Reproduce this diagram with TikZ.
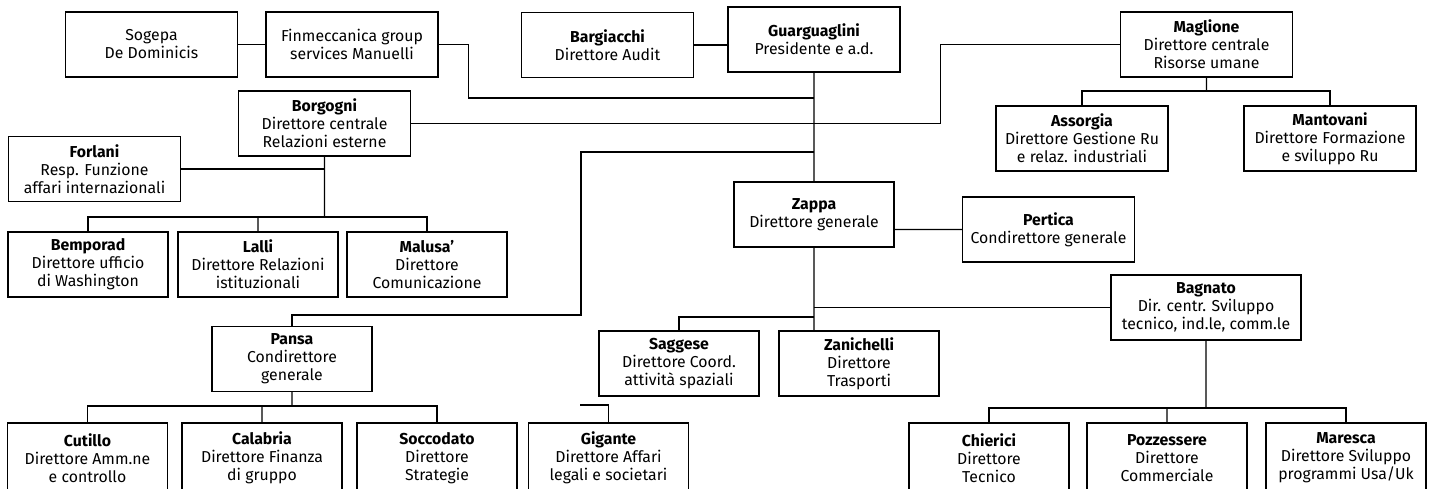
\documentclass[tikz,border=0pt]{standalone}
\usepackage{fontspec}
\setmainfont{Fira Sans}
\usepackage{tikz}
\newcommand{\who}[1]{\textbf{#1}\\}

\begin{document}
\begin{tikzpicture}[scale=0.2,
  office/.style={draw=black, line width=0.6pt, minimum width=3.44cm, minimum height=1.3cm, align=center, inner sep=1pt, font=\fontsize{9}{10.2}\selectfont},
  unit/.style={office, minimum width=3.2cm},
  low/.style={unit, minimum height=1.4cm},
  wire/.style={line width=0.6pt}]
\clip (0,0) rectangle (143.1,-48.8);
\node [office] (sogepa) at (15.15,-4.45) {Sogepa\\De Dominicis};
\node [office] (finm) at (35.2,-4.45) {Finmeccanica group\\services Manuelli};
\node [office] (bargiacchi) at (60.75,-4.5) {\who{Bargiacchi}Direttore Audit};
\node [office] (guarg) at (81.4,-3.95) {\who{Guarguaglini}Presidente e a.d.};
\node [office] (maglione) at (120.65,-4.45) {\who{Maglione}Direttore centrale\\Risorse umane};
\node [office] (borgogni) at (32.45,-12.35) {\who{Borgogni}Direttore centrale\\Relazioni esterne};
\node [office] (assorgia) at (108.2,-13.85) {\who{Assorgia}Direttore Gestione Ru\\e relaz. industriali};
\node [office] (mantovani) at (133,-13.85) {\who{Mantovani}Direttore Formazione\\e sviluppo Ru};
\node [office] (forlani) at (9.45,-16.9) {\who{Forlani}Resp. Funzione\\affari internazionali};
\node [unit] (zappa) at (81.4,-21.45) {\who{Zappa}Direttore generale};
\node [office] (pertica) at (104.85,-22.95) {\who{Pertica}Condirettore generale};
\node [unit] (bemporad) at (8.8,-26.45) {\who{Bemporad}Direttore ufficio\\di Washington};
\node [unit] (lalli) at (25.8,-26.45) {\who{Lalli}Direttore Relazioni\\istituzionali};
\node [unit] (malusa) at (42.7,-26.45) {\who{Malusa'}Direttore\\Comunicazione};
\node [office, minimum width=3.8cm] (bagnato) at (120.6,-30.75) {\who{Bagnato}Dir. centr. Sviluppo\\tecnico, ind.le, comm.le};
\node [unit] (pansa) at (29.2,-35.9) {\who{Pansa}Condirettore\\generale};
\node [unit] (saggese) at (67.9,-36.35) {\who{Saggese}Direttore Coord.\\attività spaziali};
\node [unit] (zanichelli) at (85.9,-36.35) {\who{Zanichelli}Direttore\\Trasporti};
\node [low] (cutillo) at (8.75,-45.8) {\who{Cutillo}Direttore Amm.ne\\e controllo};
\node [low] (calabria) at (26.2,-45.8) {\who{Calabria}Direttore Finanza\\di gruppo};
\node [low] (soccodato) at (43.7,-45.8) {\who{Soccodato}Direttore\\Strategie};
\node [low] (gigante) at (60.85,-45.8) {\who{Gigante}Direttore Affari\\legali e societari};
\node [low] (chierici) at (98.9,-45.8) {\who{Chierici}Direttore\\Tecnico};
\node [low] (pozzessere) at (116.7,-45.8) {\who{Pozzessere}Direttore\\Commerciale};
\node [low] (maresca) at (134.6,-45.8) {\who{Maresca}Direttore Sviluppo\\programmi Usa/Uk};
\coordinate (t1) at (81.4,-9.8);
\coordinate (t3) at (81.4,-15.2);
\coordinate (t4) at (81.4,-31.7);
\coordinate (pbend) at (58.1,-31.5);
\coordinate (bbus) at (32.45,-21.7);
\coordinate (pbus) at (29.2,-40.6);
\coordinate (gend) at (58,-40.5);
\coordinate (mbus) at (120.65,-9.1);
\coordinate (gbus) at (120.6,-40.8);
\draw [wire] (sogepa) -- (finm);
\draw [wire] (bargiacchi.east) -- (bargiacchi.east -| guarg.west);
\draw [wire] (guarg) -- (zappa);
\draw [wire] (finm.east) -- ++(3,0) |- (t1);
\draw [wire] (borgogni) -- (borgogni -| guarg);
\draw [wire] (maglione.west) -- ++(-17.9,0) |- (borgogni -| guarg);
\draw [wire] (pansa) |- (pbend) |- (t3);
\draw [wire] (pertica) -- (pertica -| zappa.east);
\draw [wire] (zappa) -- (zappa |- zanichelli.north);
\draw [wire] (saggese) |- (t4);
\draw [wire] (bagnato) -- (bagnato -| zappa);
\draw [wire] (borgogni) -- (bbus);
\draw [wire] (bemporad) |- (bbus) -| (malusa);
\draw [wire] (lalli) -- (lalli |- bbus);
\draw [wire] (forlani) -- (forlani -| borgogni);
\draw [wire] (pansa) -- (pbus);
\draw [wire] (cutillo) |- (pbus) -| (soccodato);
\draw [wire] (calabria) -- (calabria |- pbus);
\draw [wire] (gigante) |- (gend);
\draw [wire] (maglione) -- (mbus);
\draw [wire] (assorgia) |- (mbus) -| (mantovani);
\draw [wire] (bagnato) -- (gbus);
\draw [wire] (chierici) |- (gbus) -| (maresca);
\draw [wire] (pozzessere) -- (pozzessere |- gbus);
\end{tikzpicture}
\end{document}
